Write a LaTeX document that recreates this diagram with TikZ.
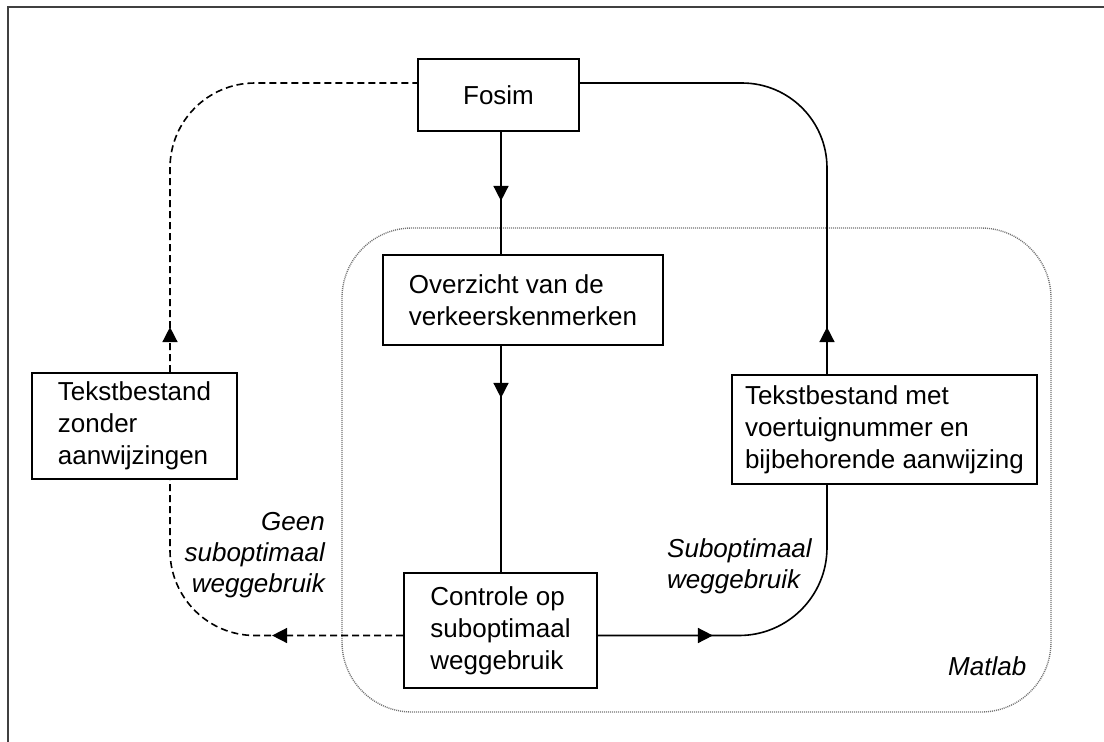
\documentclass[tikz,border=0pt]{standalone}
\usepackage{fontspec}
\setmainfont{Liberation Sans}
\usetikzlibrary{arrows.meta,decorations.markings}
\tikzset{
  box/.style={draw, line width=1.8pt, align=left, inner sep=0pt, font=\fontsize{26}{32}\selectfont},
  lbl/.style={inner sep=0pt, font=\fontsize{26}{31}\selectfont\itshape},
  conn/.style={line width=1.6pt},
  dconn/.style={conn, dash pattern=on 7pt off 4pt},
  tipat/.style={postaction={decorate, decoration={markings, mark=at position #1 with {\arrow{Triangle[width=15pt,length=15pt]}}}}},
  matlabbox/.style={draw=black!55, line width=1.4pt, dash pattern=on 1pt off 1pt, rounded corners=70pt},
  frame/.style={draw=black!75, line width=2pt},
}
\begin{document}
\begin{tikzpicture}[x=1pt, y=-1pt]
\useasboundingbox (0,0) rectangle (1104,742);
\draw[frame] (8,742) -- (8,7) -- (1104,7);
\draw[matlabbox] (342,228) rectangle (1051,712);

\node[box, minimum width=161pt, minimum height=72pt] (fosim) at (498.5,95) {Fosim};
\node[box, minimum width=280pt, minimum height=90pt] (overz) at (523,300) {Overzicht van de\\verkeerskenmerken};
\node[box, minimum width=205pt, minimum height=106pt] (tekz) at (134.5,426) {Tekstbestand\\zonder\\aanwijzingen};
\node[box, minimum width=193pt, minimum height=115pt] (ctrl) at (500.5,630.5) {Controle op\\suboptimaal\\weggebruik};
\node[box, minimum width=305pt, minimum height=109pt] (tekm) at (884.5,429.5) {Tekstbestand met\\voertuignummer en\\bijbehorende aanwijzing};

\coordinate (vx) at (501,0);
\coordinate (tl) at (170,83);
\coordinate (tr) at (827,83);
\coordinate (bl) at (170,635.5);
\coordinate (br) at (827,635.5);

\draw[conn, tipat=69pt] (fosim.south -| vx) -- (overz.north -| vx);
\draw[conn, tipat=52pt] (overz.south -| vx) -- (ctrl.north -| vx);
\draw[conn, rounded corners=88pt, tipat=115pt] (ctrl.east |- br) -- (br) -- (tekm.south -| br);
\draw[conn, rounded corners=85pt, tipat=47pt] (tekm.north -| tr) -- (tr) -- (fosim.east |- tr);
\draw[dconn, rounded corners=85pt, tipat=45pt] (tekz.north -| tl) -- (tl) -- (fosim.west |- tl);
\draw[dconn, rounded corners=85pt, tipat=131pt] (ctrl.west |- bl) -- (bl) -- (tekz.south -| bl);

\node[lbl, align=right, anchor=north east] (geen) at (325,512) {Geen\\suboptimaal\\weggebruik};
\node[lbl, align=left, anchor=north west] (subopt) at (667,538) {Suboptimaal\\weggebruik};
\node[lbl, anchor=base west] (matlab) at (948,675) {Matlab};
\end{tikzpicture}
\end{document}
